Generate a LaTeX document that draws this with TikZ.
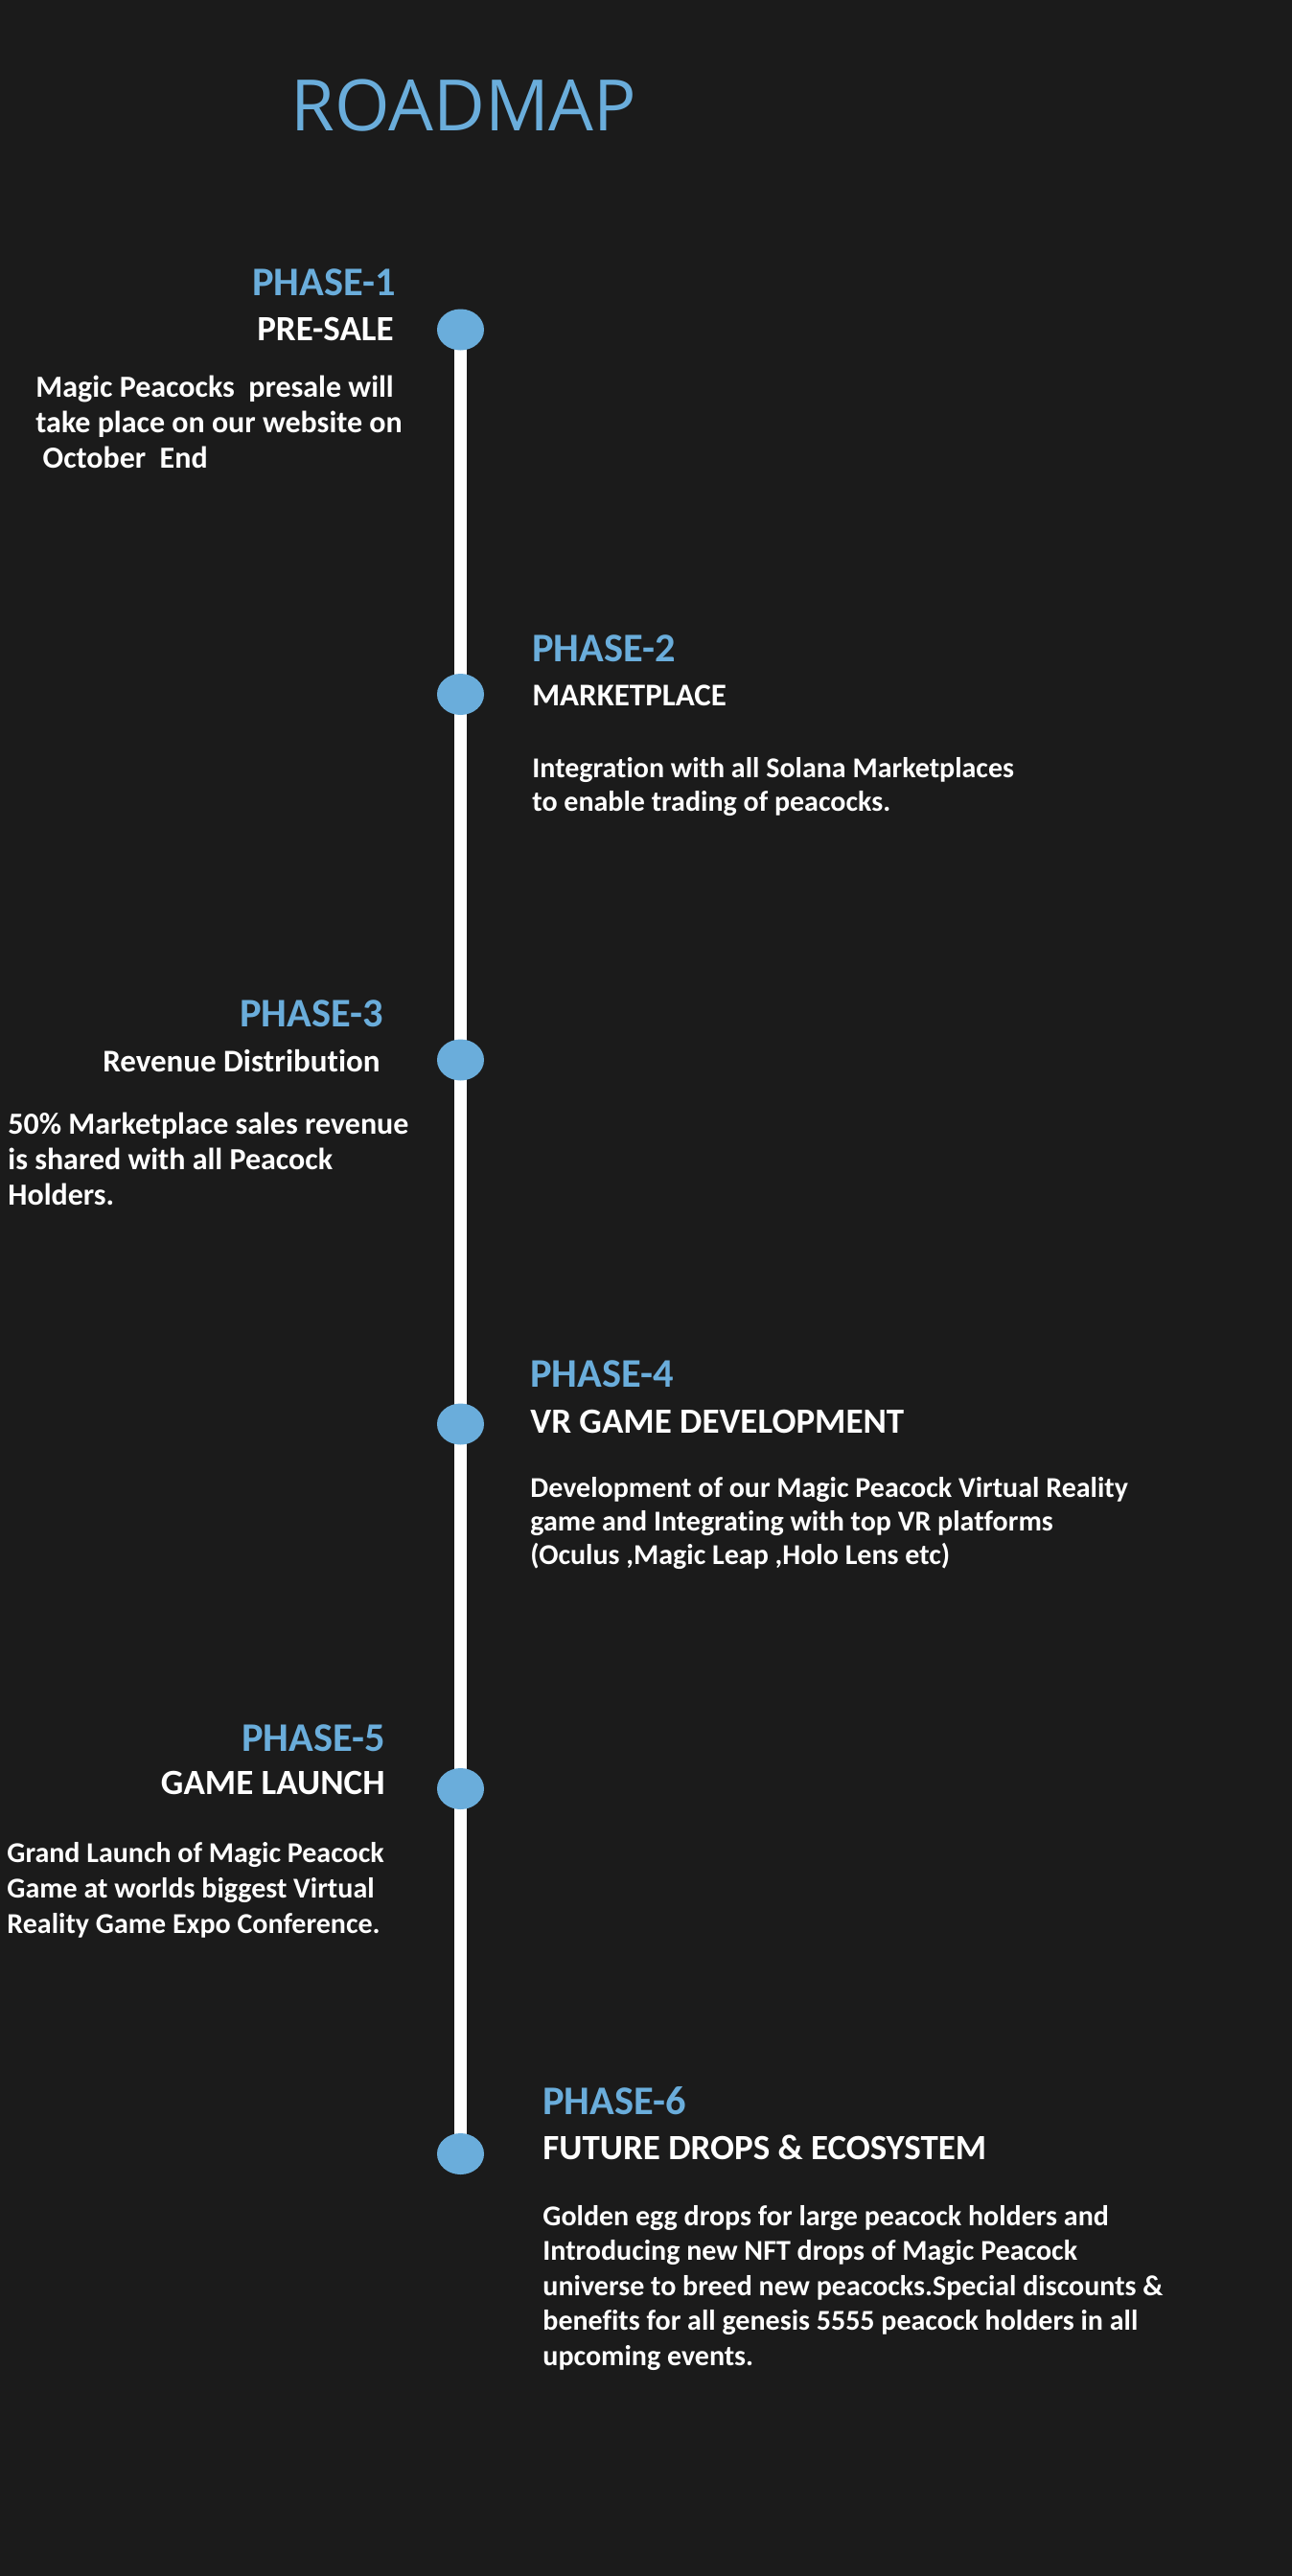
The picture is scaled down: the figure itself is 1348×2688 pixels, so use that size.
\documentclass[tikz,border=0pt]{standalone}
\usepackage{fontspec}
\setmainfont{Carlito}[Ligatures=NoCommon]
\newfontfamily\headfont{Open Sans}
\usetikzlibrary{shapes.geometric,backgrounds}

\definecolor{bgdark}{HTML}{1B1B1B}
\definecolor{accent}{HTML}{6AADDB}

\begin{document}
\begin{tikzpicture}[x=0.5pt,y=-0.5pt,
  phasetag/.style={text=accent,inner sep=0pt,font={\fontsize{21.2}{25}\selectfont\bfseries}},
  phasename/.style={text=white,inner sep=0pt,font={\fontsize{16.5}{20}\selectfont\bfseries}},
  bigname/.style={text=white,inner sep=0pt,font={\fontsize{18.5}{22}\selectfont\bfseries}},
  phasebody/.style={text=white,inner sep=0pt,align=left,font={\fontsize{15}{17.5}\selectfont\bfseries}},
  widebody/.style={text=white,inner sep=0pt,align=left,font={\fontsize{16}{18.5}\selectfont\bfseries}},
  milestone/.style={ellipse,fill=accent,minimum width=24.5pt,minimum height=21.5pt,inner sep=0pt},
  spine/.style={white,line width=6.5pt}]
\useasboundingbox (0,0) rectangle (1348,2688);

% heading
\node[anchor=base west,inner sep=0pt,text=accent,font={\headfont\fontsize{37}{44}\selectfont}] (title) at (303,136) {ROADMAP};

% milestones on the spine
\node[milestone] (d1) at (480.5,344) {};
\node[milestone] (d2) at (480.5,724.5) {};
\node[milestone] (d3) at (480.5,1106) {};
\node[milestone] (d4) at (480.5,1486) {};
\node[milestone] (d5) at (480.5,1866.5) {};
\node[milestone] (d6) at (480.5,2247.5) {};

\begin{scope}[on background layer]
  \fill[bgdark] (0,0) rectangle (1348,2688);
  \draw[spine] (d1.center) -- (d6.center);
\end{scope}

% phase 1 (body nodes are placed by the baseline of their last line)
\node[phasetag,anchor=base east] (p1) at (413,308) {PHASE-1};
\node[bigname,anchor=base east] (n1) at (411,355) {PRE-SALE};
\node[widebody,anchor=base west] (b1) at (37,488) {Magic Peacocks\ \ presale will\\take place on our website on\\\ October\ \ End};

% phase 2
\node[phasetag,anchor=base west] (p2) at (555,690) {PHASE-2};
\node[phasename,anchor=base west] (n2) at (555,736) {MARKETPLACE};
\node[phasebody,anchor=base west] (b2) at (555,846) {Integration with all Solana Marketplaces\\to enable trading of peacocks.};

% phase 3
\node[phasetag,anchor=base east] (p3) at (400,1071) {PHASE-3};
\node[phasename,anchor=base east] (n3) at (397,1118) {Revenue Distribution};
\node[widebody,anchor=base west] (b3) at (8,1257) {50\% Marketplace sales revenue\\is shared with all Peacock\\Holders.};

% phase 4
\node[phasetag,anchor=base west] (p4) at (553,1447) {PHASE-4};
\node[bigname,anchor=base west] (n4) at (553,1495) {VR GAME DEVELOPMENT};
\node[phasebody,anchor=base west] (b4) at (553,1632) {Development of our Magic Peacock Virtual Reality\\game and Integrating with top VR platforms\\(Oculus ,Magic Leap ,Holo Lens etc)};

% phase 5
\node[phasetag,anchor=base east] (p5) at (402,1827) {PHASE-5};
\node[bigname,anchor=base east] (n5) at (402,1872) {GAME LAUNCH};
\node[phasebody,anchor=base west,font={\fontsize{15}{18.5}\selectfont\bfseries}] (b5) at (7,2017) {Grand Launch of Magic Peacock\\Game at worlds biggest Virtual\\Reality Game Expo Conference.};

% phase 6
\node[phasetag,anchor=base west] (p6) at (566,2206) {PHASE-6};
\node[bigname,anchor=base west] (n6) at (566,2253) {FUTURE DROPS \& ECOSYSTEM};
\node[phasebody,anchor=base west,font={\fontsize{15}{18.25}\selectfont\bfseries}] (b6) at (566,2468) {Golden egg drops for large peacock holders and\\Introducing new NFT drops of Magic Peacock\\universe to breed new peacocks.Special discounts \&\\benefits for all genesis 5555 peacock holders in all\\upcoming events.};
\end{tikzpicture}
\end{document}
